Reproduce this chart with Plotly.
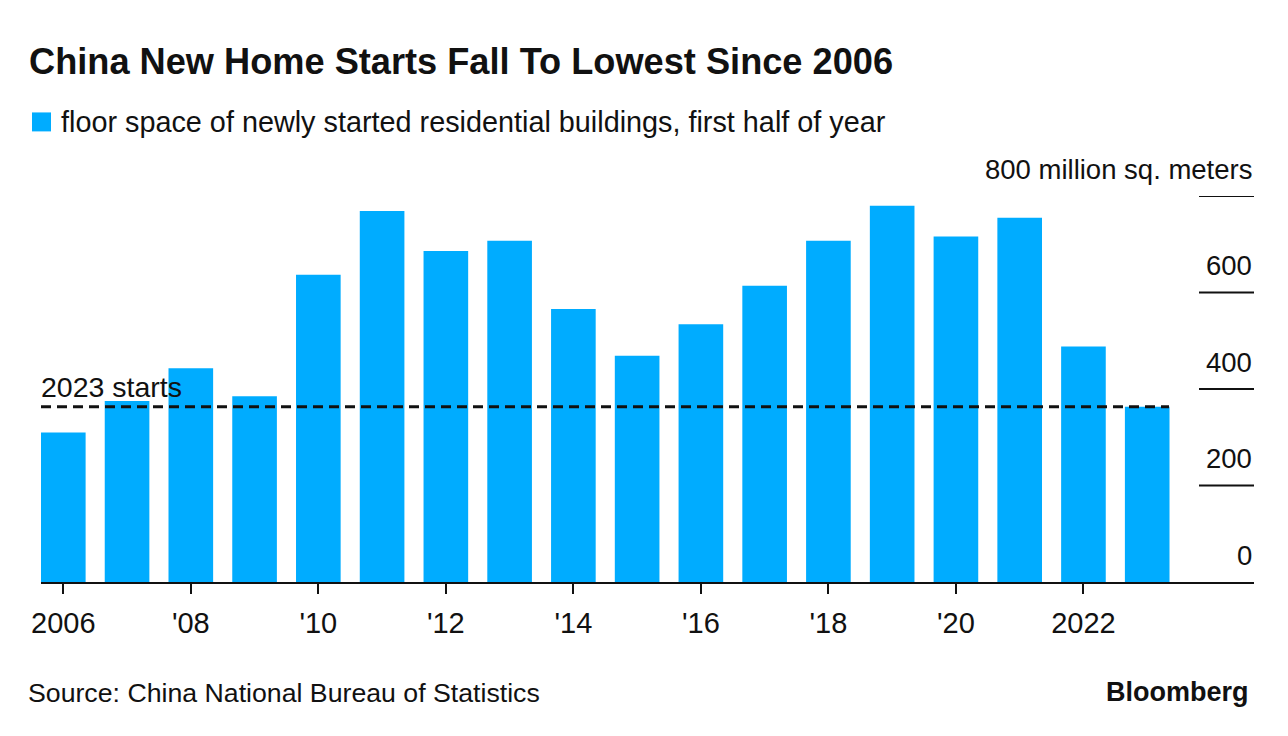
import plotly.graph_objects as go

years = list(range(2006, 2024))
values = [310, 375, 443, 385, 637, 769, 686, 707, 566, 469, 534, 614, 707, 780, 716, 755, 488, 363]
tick_years = list(range(2006, 2023, 2))
tick_text = ["2006", "'08", "'10", "'12", "'14", "'16", "'18", "'20", "2022"]
y_ticks = [0, 200, 400, 600, 800]
y_tick_text = ["0", "200", "400", "600", "800 million sq. meters"]

title = "China New Home Starts Fall To Lowest Since 2006"
legend_text = "floor space of newly started residential buildings, first half of year"
source = "Source: China National Bureau of Statistics"

BLUE = "#00ACFF"
INK = "#111111"
FONT = "Liberation Sans"
OFF = 8  # page body margin
W, H = 1280, 728
# plot area in page pixel coords
PX0, PX1, PY0, PY1 = 41, 1254, 195.7, 582.3
L = PX0 - OFF
R = W - (PX1 - OFF)
T = PY0 - OFF
B = H - (PY1 - OFF)
PW = PX1 - PX0
PH = PY1 - PY0
BAR_W = 0.7
STEP = 63.76  # px per year


def px_x(px):
    return (px - PX0) / PW


def px_y(py):
    return (PY1 - py) / PH


fig = go.Figure()
fig.add_trace(go.Bar(x=years, y=values, width=BAR_W, marker=dict(color=BLUE, line=dict(width=0)),
                     showlegend=False))

shapes = []
annotations = []

# right side short gridlines
for v in y_ticks[1:]:
    shapes.append(dict(type="line", xref="paper", yref="y", x0=px_x(1199), x1=1.0, y0=v, y1=v,
                       line=dict(color=INK, width=2)))
for v, t in zip(y_ticks, y_tick_text):
    annotations.append(dict(xref="paper", yref="y", x=1.0, y=v, text=t, showarrow=False,
                            xanchor="right", yanchor="middle", yshift=27,
                            font=dict(family=FONT, size=27.5, color=INK)))

# dashed reference line at 2023 level
last = values[-1]
shapes.append(dict(type="line", xref="paper", yref="y", x0=0, x1=px_x(1169), y0=last, y1=last,
                   line=dict(color=INK, width=3, dash="10px,6px"), layer="above"))
annotations.append(dict(xref="paper", yref="y", x=0, y=last, text="2023 starts", showarrow=False,
                        xanchor="left", yanchor="middle", yshift=20, xshift=-2,
                        font=dict(family=FONT, size=28.5, color=INK)))

# legend square + text
shapes.append(dict(type="rect", xref="paper", yref="paper", x0=px_x(32), x1=px_x(51),
                   y0=px_y(131), y1=px_y(112), fillcolor=BLUE, line=dict(width=0)))
annotations.append(dict(xref="paper", yref="paper", x=px_x(59), y=px_y(122), text=legend_text,
                        showarrow=False, xanchor="left", yanchor="middle",
                        font=dict(family=FONT, size=28.8, color=INK)))

# source + brand
annotations.append(dict(xref="paper", yref="paper", x=px_x(26), y=px_y(693), text=source,
                        showarrow=False, xanchor="left", yanchor="middle",
                        font=dict(family=FONT, size=26.7, color=INK)))
annotations.append(dict(xref="paper", yref="paper", x=px_x(1251), y=px_y(692), text="<b>Bloomberg</b>",
                        showarrow=False, xanchor="right", yanchor="middle",
                        font=dict(family=FONT, size=27, color=INK)))

fig.update_layout(
    width=W, height=H,
    margin=dict(l=L, r=R, t=T, b=B, pad=0),
    paper_bgcolor="white", plot_bgcolor="white",
    title=dict(text="<b>" + title + "</b>", x=(29 - OFF) / W, xanchor="left", xref="container",
               y=1 - (61 - OFF) / H, yanchor="middle", yref="container",
               font=dict(family=FONT, size=36.2, color=INK)),
    xaxis=dict(range=[years[0] - (63.3 - PX0) / STEP, years[-1] + (PX1 - 1147.2) / STEP],
               tickmode="array", tickvals=tick_years, ticktext=tick_text,
               ticks="outside", ticklen=10, tickwidth=2, tickcolor=INK,
               ticklabelstandoff=4,
               showline=True, linecolor=INK, linewidth=2,
               showgrid=False, zeroline=False,
               tickfont=dict(family=FONT, size=29, color=INK)),
    yaxis=dict(range=[0, 800], showticklabels=False, showgrid=False, zeroline=False, ticks=""),
    shapes=shapes,
    annotations=annotations,
    bargap=0.3,
)

fig.write_html("out.html")
